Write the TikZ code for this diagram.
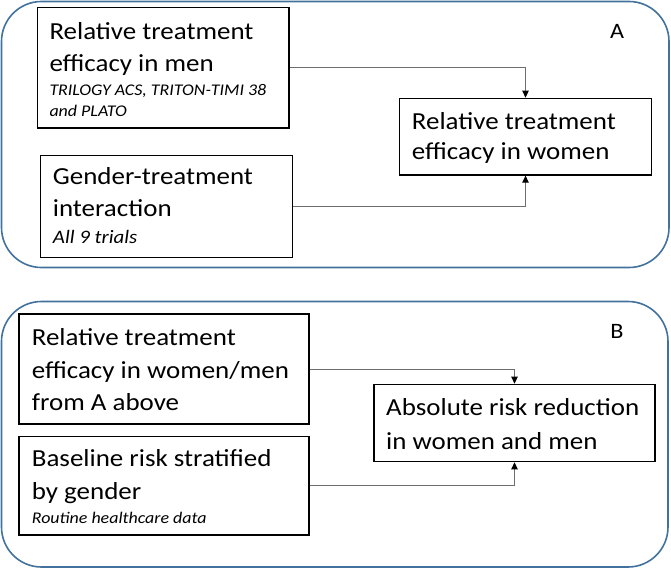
\documentclass[tikz,border=0pt]{standalone}
\usepackage{fontspec}
\setmainfont{Carlito}[FakeStretch=1.1]
\usetikzlibrary{arrows.meta}
\definecolor{panelblue}{HTML}{41719C}
\definecolor{connGray}{HTML}{6E6E6E}
\tikzset{
  panel/.style={draw=panelblue, line width=1.6pt, rounded corners=40pt},
  stepbox/.style={draw=black, line width=1.3pt, inner sep=0pt, fill=white},
  mainline/.style={anchor=base west, inner sep=0pt, font=\fontsize{24.5}{30}\selectfont},
  smallline/.style={anchor=base west, inner sep=0pt, font=\fontsize{16.3}{21}\selectfont\itshape},
  panellabel/.style={anchor=base, inner sep=0pt, font=\fontsize{22}{28}\selectfont},
  conn/.style={draw=connGray, line width=0.9pt, -{Triangle[length=7pt,width=6.5pt,fill=black,color=black]}},
}
\begin{document}
\begin{tikzpicture}[x=1pt,y=-1pt]
\useasboundingbox (0,0) rectangle (671,569);
% panels
\draw[panel] (1.5,1.5) rectangle (669,267.5);
\draw[panel] (1.5,301.5) rectangle (668,567);
\node[panellabel] (labA) at (617,38.3) {A};
\node[panellabel] (labB) at (617,338) {B};
% panel A boxes
\node[stepbox, minimum width=251.7pt, minimum height=120.7pt] (a1) at (163.15,67.65) {};
\node[stepbox, minimum width=252pt, minimum height=101.6pt] (a2) at (166.7,206.5) {};
\node[stepbox, minimum width=252.4pt, minimum height=76.7pt] (a3) at (525.5,136.65) {};
\node[mainline] (a1t1) at (49.3,39.3) {Relative treatment};
\node[mainline] (a1t2) at (49.3,71.7) {efficacy in men};
\node[smallline] (a1t3) at (49.3,96) {TRILOGY ACS, TRITON-TIMI 38};
\node[smallline] (a1t4) at (49.3,116.7) {and PLATO};
\node[mainline] (a2t1) at (52.7,185) {Gender-treatment};
\node[mainline] (a2t2) at (52.7,216.7) {interaction};
\node[smallline, font=\fontsize{19}{22}\selectfont\itshape] (a2t3) at (52.7,243.3) {All 9 trials};
\node[mainline] (a3t1) at (411.7,129.3) {Relative treatment};
\node[mainline] (a3t2) at (411.7,160) {efficacy in women};
\draw[conn] (a1.east) -| (a3.north);
\draw[conn] (a2.east) -| (a3.south);
% panel B boxes
\node[stepbox, minimum width=290pt, minimum height=110pt] (b1) at (164,369) {};
\node[stepbox, minimum width=290pt, minimum height=98.3pt] (b2) at (164,485.85) {};
\node[stepbox, minimum width=281pt, minimum height=77.4pt] (b3) at (514.5,423) {};
\node[mainline] (b1t1) at (31.7,345) {Relative treatment};
\node[mainline] (b1t2) at (31.7,378.3) {efficacy in women/men};
\node[mainline] (b1t3) at (31.7,410) {from A above};
\node[mainline] (b2t1) at (31.7,466.7) {Baseline risk stratified};
\node[mainline] (b2t2) at (31.7,499.3) {by gender};
\node[smallline] (b2t3) at (31.7,523.3) {Routine healthcare data};
\node[mainline] (b3t1) at (386,415.7) {Absolute risk reduction};
\node[mainline] (b3t2) at (386,449) {in women and men};
\draw[conn] (b1.east) -| (b3.north);
\draw[conn] (b2.east) -| (b3.south);
\end{tikzpicture}
\end{document}
